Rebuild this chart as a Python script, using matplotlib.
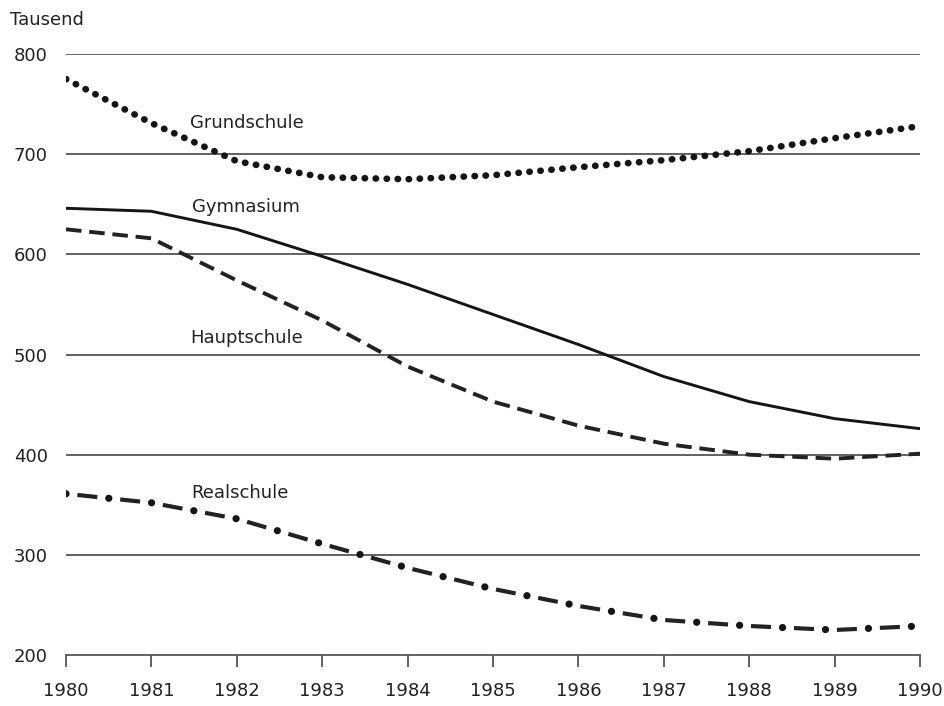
import matplotlib.pyplot as plt

years = [1980, 1981, 1982, 1983, 1984, 1985, 1986, 1987, 1988, 1989, 1990]
grundschule = [775, 731, 693, 677, 675, 679, 687, 694, 703, 716, 728]
gymnasium = [646, 643, 625, 598, 570, 540, 510, 478, 453, 436, 426]
hauptschule = [625, 616, 574, 534, 488, 453, 429, 411, 400, 396, 401]
realschule = [361, 352, 336, 311, 287, 266, 249, 235, 229, 225, 229]

plt.rcParams['font.family'] = ['DejaVu Sans']

fig = plt.figure(figsize=(9.44, 7.06), dpi=100)
ax = fig.add_axes([0.0699, 0.0722, 0.9047, 0.8513])

for yv in [300, 400, 500, 600, 700, 800]:
    ax.axhline(yv, color='#555555', linewidth=1.3, zorder=1)

ink = '#151515'
ax.plot(years, grundschule, color=ink, linewidth=4.8,
        linestyle=(0, (0.05, 1.6)), dash_capstyle='round', zorder=3)
ax.plot(years, gymnasium, color=ink, linewidth=2.1, zorder=3)
ax.plot(years, hauptschule, color='#222222', linewidth=2.8,
        linestyle=(0, (4.0, 2.0)), zorder=3)
# Realschule: dashes plus bigger dots, two dash patterns kept in step
ax.plot(years, realschule, color='#222222', linewidth=3.0,
        linestyle=(0, (0.001, 2.76, 4.8, 2.759)), zorder=3)
ax.plot(years, realschule, color=ink, linewidth=5.2,
        linestyle=(0, (0.01, 5.944)), dash_capstyle='round', zorder=3)

lab = dict(fontsize=13, va='baseline', ha='left', color='#222222')
ax.text(1981.45, 726, 'Grundschule', **lab)
ax.text(1981.47, 642, 'Gymnasium', **lab)
ax.text(1981.45, 511, 'Hauptschule', **lab)
ax.text(1981.47, 357, 'Realschule', **lab)

ax.set_xlim(1980, 1990)
ax.set_ylim(200, 800)
ax.set_xticks(years)
ax.set_yticks([200, 300, 400, 500, 600, 700, 800])
ax.tick_params(axis='x', direction='out', length=8.5, width=1.3, color='#555555',
               labelsize=13, labelcolor='#222222', pad=11)
ax.tick_params(axis='y', length=0, labelsize=13, labelcolor='#222222', pad=13)
for s in ['top', 'right', 'left']:
    ax.spines[s].set_visible(False)
ax.spines['bottom'].set_color('#555555')
ax.spines['bottom'].set_linewidth(1.3)

fig.text(0.0106, 0.972, 'Tausend', fontsize=13, va='center', ha='left',
         color='#222222')

fig.savefig('out.png', dpi=100)
